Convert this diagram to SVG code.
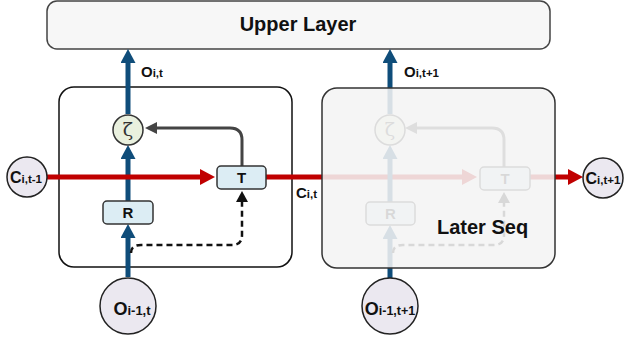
<svg xmlns="http://www.w3.org/2000/svg" width="624" height="341" viewBox="0 0 624 341">
<style>
.t{font-family:"Liberation Sans",Arial,sans-serif;font-weight:bold;fill:#111}
.circ{fill:#ebe8f0;stroke:#222;stroke-width:1.5}
.gate{fill:#dcedf4;stroke:#333;stroke-width:1.5}
.blue{stroke:#0f4d7a;stroke-width:5;fill:none}
.red{stroke:#c00000;stroke-width:5;fill:none}
.gray{stroke:#444;stroke-width:3;fill:none}
.dash{stroke:#111;stroke-width:2.5;fill:none;stroke-dasharray:6 4}
.zeta{font-family:"DejaVu Serif",serif;font-size:19px;fill:#333}
</style>
<defs>
<marker id="ab" markerUnits="userSpaceOnUse" markerWidth="14" markerHeight="15" refX="7" refY="7.5" orient="auto"><path d="M0,0 L14,7.5 L0,15 z" fill="#0f4d7a"/></marker>
<marker id="ar" markerUnits="userSpaceOnUse" markerWidth="15" markerHeight="16" refX="8" refY="8" orient="auto"><path d="M0,0 L15,8 L0,16 z" fill="#c00000"/></marker>
<marker id="ag" markerUnits="userSpaceOnUse" markerWidth="12" markerHeight="12" refX="5" refY="6" orient="auto"><path d="M0,0 L12,6 L0,12 z" fill="#444"/></marker>
<marker id="ak" markerUnits="userSpaceOnUse" markerWidth="11" markerHeight="12" refX="5" refY="6" orient="auto"><path d="M0,0 L11,6 L0,12 z" fill="#111"/></marker>
</defs>

<g id="upper-layer">
<rect x="47" y="1" width="503" height="48" rx="10" fill="#f7f7f7" stroke="#444" stroke-width="1.5"/>
<text class="t" x="298" y="31" font-size="20" text-anchor="middle">Upper Layer</text>
</g>

<g id="cell-t">
<rect x="59" y="87" width="233" height="180" rx="15" fill="#fff" stroke="#111" stroke-width="1.5"/>
</g>

<g id="connectors">
<path class="blue" d="M128,277 V231" marker-end="url(#ab)"/>
<path class="blue" d="M128,201 V152" marker-end="url(#ab)"/>
<path class="blue" d="M128,114 V56" marker-end="url(#ab)"/>
<path class="red" d="M47,177 H208" marker-end="url(#ar)"/>
<path class="red" d="M266,177 H470" marker-end="url(#ar)"/>
<path class="red" d="M530,177 H576" marker-end="url(#ar)"/>
<path class="gray" d="M242,166 V140 Q242,128 230,128 H152" marker-end="url(#ag)"/>
<path class="dash" d="M131,253 Q131,245 141,245 H232 Q242,245 242,235 V197" marker-end="url(#ak)"/>
<path class="blue" d="M390,278 V232" marker-end="url(#ab)"/>
<path class="blue" d="M390,202 V152" marker-end="url(#ab)"/>
<path class="blue" d="M390,114 V56" marker-end="url(#ab)"/>
<path class="gray" d="M504,167 V140 Q504,128 492,128 H412" marker-end="url(#ag)"/>
<path class="dash" d="M393,253 Q393,245 403,245 H494 Q504,245 504,235 V198" marker-end="url(#ak)"/>
</g>

<g id="zeta-t">
<circle cx="128" cy="130" r="15" fill="#e9f0de" stroke="#333" stroke-width="1.5"/>
<text class="zeta" x="128" y="136" text-anchor="middle">ζ</text>
</g>
<g id="r-t">
<rect class="gate" x="103" y="201" width="50" height="23" rx="4"/>
<text class="t" x="128" y="218" font-size="15" text-anchor="middle">R</text>
</g>
<g id="t-t">
<rect class="gate" x="217" y="166" width="49" height="23" rx="4"/>
<text class="t" x="241.5" y="183" font-size="15" text-anchor="middle">T</text>
</g>

<g id="zeta-t1">
<circle cx="390" cy="130" r="15" fill="#e9f0de" stroke="#333" stroke-width="1.5"/>
<text class="zeta" x="390" y="136" text-anchor="middle">ζ</text>
</g>
<g id="r-t1">
<rect class="gate" x="366" y="202" width="49" height="23" rx="4"/>
<text class="t" x="390.5" y="219" font-size="15" text-anchor="middle">R</text>
</g>
<g id="t-t1">
<rect class="gate" x="480" y="167" width="50" height="23" rx="4"/>
<text class="t" x="505" y="184" font-size="15" text-anchor="middle">T</text>
</g>

<g id="later-seq">
<rect x="322" y="88" width="233" height="180" rx="15" fill="#f4f4f4" fill-opacity="0.88" stroke="#333" stroke-width="1.5"/>
<text class="t" x="437" y="234" font-size="20">Later Seq</text>
</g>

<g id="c-t-1">
<circle class="circ" cx="27" cy="177" r="20"/>
<text class="t" x="26" y="183" text-anchor="middle"><tspan font-size="16">C</tspan><tspan font-size="11.5">i,t-1</tspan></text>
</g>
<g id="c-t1">
<circle class="circ" cx="603" cy="178" r="20"/>
<text class="t" x="603" y="184" text-anchor="middle"><tspan font-size="16">C</tspan><tspan font-size="11.5">i,t+1</tspan></text>
</g>
<g id="o-prev-t">
<circle class="circ" cx="128" cy="306" r="28"/>
<text class="t" x="132" y="315" text-anchor="middle"><tspan font-size="18">O</tspan><tspan font-size="13">i-1,t</tspan></text>
</g>
<g id="o-prev-t1">
<circle class="circ" cx="390" cy="306" r="28"/>
<text class="t" x="390" y="315" text-anchor="middle"><tspan font-size="18">O</tspan><tspan font-size="12.5">i-1,t+1</tspan></text>
</g>

<g id="labels">
<text class="t" x="141" y="77"><tspan font-size="15">O</tspan><tspan font-size="11.5">i,t</tspan></text>
<text class="t" x="404" y="77"><tspan font-size="15">O</tspan><tspan font-size="11.5">i,t+1</tspan></text>
<text class="t" x="296" y="198"><tspan font-size="15">C</tspan><tspan font-size="11.5">i,t</tspan></text>
</g>
</svg>
